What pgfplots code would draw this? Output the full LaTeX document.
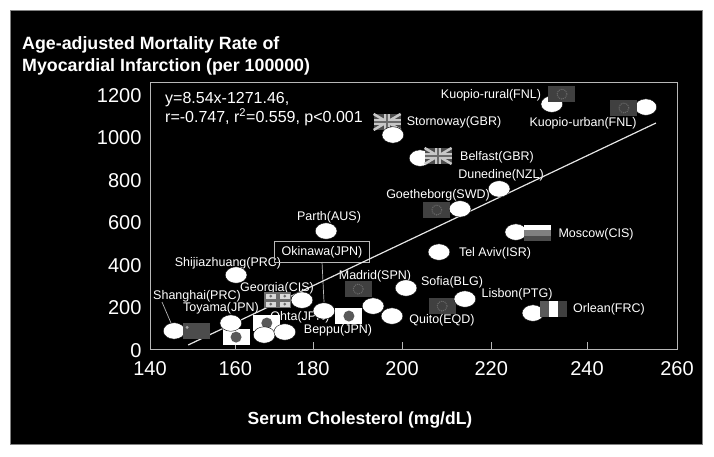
\documentclass[border=0pt]{standalone}
\usepackage{fontspec}
\setmainfont{Liberation Sans}
\usepackage{pgfplots}
\pgfplotsset{compat=1.18}
\definecolor{framegray}{gray}{0.72}
\definecolor{g25}{gray}{0.25}
\definecolor{g30}{gray}{0.30}
\definecolor{g35}{gray}{0.35}
\definecolor{g42}{gray}{0.42}
\definecolor{g50}{gray}{0.50}
\definecolor{g65}{gray}{0.65}
\definecolor{g78}{gray}{0.78}
\definecolor{g85}{gray}{0.85}

\newcommand{\flagrect}[5]{\pgfsetfillcolor{#1}\pgfpathrectanglecorners{\pgfpoint{#2pt}{#3pt}}{\pgfpoint{#4pt}{#5pt}}\pgfusepath{fill}}
\newcommand{\flagdot}[4]{\pgfsetfillcolor{#1}\pgfpathcircle{\pgfpoint{#2pt}{#3pt}}{#4pt}\pgfusepath{fill}}

% flags, 27x16 px
\pgfdeclareplotmark{flageu}{%
  \flagrect{g25}{-13.5}{-8}{13.5}{8}%
  \pgfsetstrokecolor{g42}\pgfsetlinewidth{1pt}\pgfsetdash{{1pt}{1pt}}{0pt}%
  \pgfpathcircle{\pgfpointorigin}{5pt}\pgfusepath{stroke}}
\pgfdeclareplotmark{flaguk}{%
  \flagrect{g30}{-13.5}{-8}{13.5}{8}%
  \pgfsetstrokecolor{g78}\pgfsetlinewidth{2.5pt}%
  \pgfpathmoveto{\pgfpoint{-13.5pt}{-8pt}}\pgfpathlineto{\pgfpoint{13.5pt}{8pt}}%
  \pgfpathmoveto{\pgfpoint{-13.5pt}{8pt}}\pgfpathlineto{\pgfpoint{13.5pt}{-8pt}}\pgfusepath{stroke}%
  \flagrect{g78}{-13.5}{-3}{13.5}{3}\flagrect{g78}{-3}{-8}{3}{8}%
  \flagrect{g42}{-13.5}{-1.3}{13.5}{1.3}\flagrect{g42}{-1.3}{-8}{1.3}{8}}
\pgfdeclareplotmark{flagjp}{%
  \flagrect{white}{-13.5}{-8}{13.5}{8}\flagdot{g35}{0}{0}{5.5}}
\pgfdeclareplotmark{flagcn}{%
  \flagrect{g30}{-13.5}{-8}{13.5}{8}\flagdot{g65}{-9}{3.5}{1.6}}
\pgfdeclareplotmark{flagcis}{%
  \flagrect{white}{-13.5}{2.7}{13.5}{8}\flagrect{g50}{-13.5}{-2.7}{13.5}{2.7}\flagrect{g30}{-13.5}{-8}{13.5}{-2.7}}
\pgfdeclareplotmark{flagfr}{%
  \flagrect{g35}{-13.5}{-8}{-4.5}{8}\flagrect{white}{-4.5}{-8}{4.5}{8}\flagrect{g25}{4.5}{-8}{13.5}{8}}
\pgfdeclareplotmark{flagge}{%
  \flagrect{g42}{-13.5}{-8}{13.5}{8}%
  \flagrect{g85}{-12}{1.5}{-2}{6.5}\flagrect{g85}{2}{1.5}{12}{6.5}%
  \flagrect{g85}{-12}{-6.5}{-2}{-1.5}\flagrect{g85}{2}{-6.5}{12}{-1.5}%
  \flagdot{g42}{-7}{4}{1.5}\flagdot{g42}{7}{4}{1.5}\flagdot{g42}{-7}{-4}{1.5}\flagdot{g42}{7}{-4}{1.5}}

\begin{document}
\begin{tikzpicture}[x=1pt,y=1pt]
% page and panel, pixel sized, origin at axis corner
\fill[white] (-150,-107) rectangle (564,349);
\fill[black,draw=framegray!70!black,line width=.8pt] (-139.5,-95) rectangle (552,339);
% city labels go under the marks
\begin{scope}[every node/.style={white,font=\fontsize{12.5}{14}\selectfont,inner sep=0pt}]
\node at (341,254) {Kuopio-rural(FNL)};
\node at (433,226) {Kuopio-urban(FNL)};
\node at (304,227) {Stornoway(GBR)};
\node at (347,192) {Belfast(GBR)};
\node at (351,174) {Dunedine(NZL)};
\node at (288,154) {Goetheborg(SWD)};
\node at (179,132) {Parth(AUS)};
\node at (172,97) {Okinawa(JPN)};
\node at (78,86) {Shijiazhuang(PRC)};
\node at (127,61) {Georgia(CIS)};
\node at (47,53) {Shanghai(PRC)};
\node at (71,41) {Toyama(JPN)};
\node at (150,32) {Ohta(JPN)};
\node at (188,19) {Beppu(JPN)};
\node at (225,73) {Madrid(SPN)};
\node at (302,67) {Sofia(BLG)};
\node at (292,29) {Quito(EQD)};
\node at (367,55) {Lisbon(PTG)};
\node at (459,40) {Orlean(FRC)};
\node at (446,115) {Moscow(CIS)};
\node at (345,96) {Tel Aviv(ISR)};
\end{scope}
\draw[framegray,line width=.7pt] (124,87) rectangle (219,108);
\draw[framegray,line width=.7pt] (172,87) -- (174,47);
\draw[framegray,line width=.7pt] (12,47) -- (21,26);
\begin{axis}[
  scale only axis,width=527pt,height=267pt,
  xmin=140,xmax=260,ymin=0,ymax=1256,
  xtick={140,159.4,177.1,197.4,217.7,239.5,260},
  xticklabels={140,160,180,200,220,240,260},
  ytick={0,200,...,1200},
  axis line style={framegray,line width=.8pt},
  tick style={framegray,line width=.8pt},
  xtick pos=lower,ytick pos=left,
  major tick length=7pt,
  ytick style={draw=none},
  ticklabel style={text=white,font=\fontsize{20}{22}\selectfont},
  xticklabel style={yshift=-9pt},
  yticklabel style={xshift=-5pt,yshift=-1.5pt},
  /pgf/number format/assume math mode=true,
  /pgf/number format/1000 sep={},
  clip=false,
]
% fit line
\addplot[white!90!black,line width=1.2pt] coordinates {(148.7,19) (255.2,1063)};
% flags lying under the marks
\addplot[only marks,mark=flageu] coordinates {(205.3,654) (206.5,202)};
\addplot[only marks,mark=flaguk] coordinates {(194.0,1068)};
\addplot[only marks,mark=flagjp] coordinates {(159.6,56) (166.6,122)};
\addplot[only marks,mark=flagge] coordinates {(169.1,230)};
% cities
\addplot[only marks,mark=*,mark size=8.2pt,
  mark options={xscale=1.33,fill=white,draw=none}] coordinates {
  (145.5,85) (158.4,122) (166.0,66) (170.7,80) (174.6,230) (179.6,179)
  (159.6,348) (180.1,555) (190.8,202) (195.1,155) (198.3,287) (211.7,235)
  (205.8,456) (223.3,550) (227.2,169) (219.5,753) (210.6,659) (201.5,898)
  (195.3,1007) (231.5,1152) (252.9,1138)};
% flags lying over the marks
\addplot[only marks,mark=flageu] coordinates {(233.8,1199) (247.9,1134) (187.4,282)};
\addplot[only marks,mark=flaguk] coordinates {(205.6,908)};
\addplot[only marks,mark=flagjp] coordinates {(185.3,155)};
\addplot[only marks,mark=flagcn] coordinates {(150.5,85)};
\addplot[only marks,mark=flagcis] coordinates {(228.3,546)};
\addplot[only marks,mark=flagfr] coordinates {(231.8,188)};
\end{axis}
% title and axis label
\node[anchor=west,white,align=left,inner sep=0pt,font=\bfseries\fontsize{17.8}{21.5}\selectfont] at (-128,293) {Age-adjusted Mortality Rate of\\Myocardial Infarction (per 100000)};
\node[white,inner sep=0pt,font=\bfseries\fontsize{17.5}{20}\selectfont] at (210,-71) {Serum Cholesterol (mg/dL)};
% equation
\node[anchor=west,white,align=left,inner sep=0pt,font=\fontsize{16}{19.5}\selectfont] at (15,240) {y=8.54x-1271.46,\\r=-0.747, r\textsuperscript{2}=0.559, p<0.001};
\end{tikzpicture}
\end{document}
